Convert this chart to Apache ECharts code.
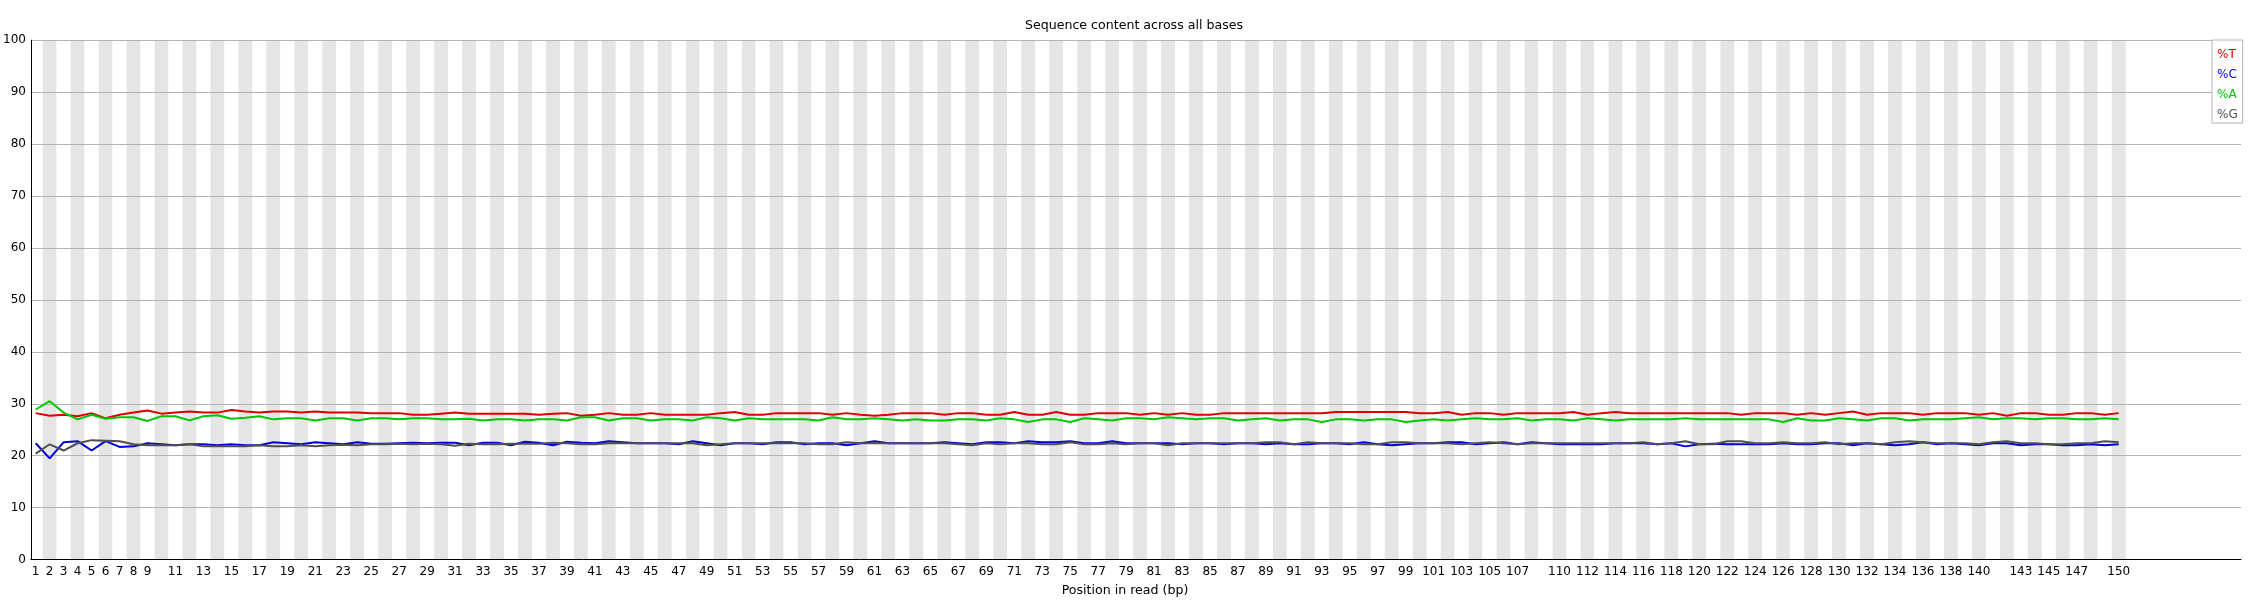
<!DOCTYPE html>
<html>
<head>
<meta charset="utf-8">
<script src="https://cdn.jsdelivr.net/npm/echarts/dist/echarts.min.js"></script>
<style>html,body{margin:0;padding:0;background:#fff}#c{width:2250px;height:600px}</style>
</head>
<body>
<div id="c"></div>
<script>
const positions = Array.from({length: 150}, (_, i) => String(i + 1));
const shownLabels = [1,2,3,4,5,6,7,8,9,11,13,15,17,19,21,23,25,27,29,31,33,35,37,39,41,43,45,47,49,51,53,55,57,59,61,63,65,67,69,71,73,75,77,79,81,83,85,87,89,91,93,95,97,99,101,103,105,107,110,112,114,116,118,120,122,124,126,128,130,132,134,136,138,140,143,145,147,150];
const yTicks = [0,10,20,30,40,50,60,70,80,90,100];

const pctT = [
28.2,27.7,27.9,27.6,28.2,27.2,27.9,28.3,28.7,28.1,
28.3,28.5,28.3,28.3,28.8,28.5,28.3,28.5,28.5,28.3,
28.5,28.3,28.3,28.3,28.2,28.2,28.2,27.9,27.9,28.1,
28.3,28.1,28.1,28.1,28.1,28.1,27.9,28.1,28.2,27.7,
27.9,28.2,27.9,27.9,28.2,27.9,27.9,27.9,27.9,28.2,
28.4,27.9,27.9,28.2,28.2,28.2,28.2,27.9,28.2,27.9,
27.7,27.9,28.2,28.2,28.2,27.9,28.2,28.2,27.9,27.9,
28.4,27.9,27.9,28.4,27.9,27.9,28.2,28.2,28.2,27.9,
28.2,27.9,28.2,27.9,27.9,28.2,28.2,28.2,28.2,28.2,
28.2,28.2,28.2,28.4,28.4,28.4,28.4,28.4,28.4,28.2,
28.2,28.4,27.9,28.2,28.2,27.9,28.2,28.2,28.2,28.2,
28.4,27.9,28.2,28.4,28.2,28.2,28.2,28.2,28.2,28.2,
28.2,28.2,27.9,28.2,28.2,28.2,27.9,28.2,27.9,28.2,
28.5,27.9,28.2,28.2,28.2,27.9,28.2,28.2,28.2,27.9,
28.2,27.7,28.2,28.2,27.9,27.9,28.2,28.2,27.9,28.2];

const pctC = [
22.4,19.5,22.6,22.8,21.0,22.8,21.7,21.8,22.4,22.2,
22.0,22.2,22.2,22.0,22.2,22.0,22.0,22.6,22.4,22.2,
22.6,22.4,22.2,22.6,22.3,22.3,22.4,22.5,22.4,22.5,
22.5,22.0,22.5,22.5,22.0,22.7,22.5,22.0,22.7,22.5,
22.4,22.8,22.6,22.4,22.4,22.4,22.2,22.8,22.4,22.0,
22.4,22.4,22.2,22.6,22.6,22.2,22.4,22.4,22.0,22.4,
22.8,22.4,22.4,22.4,22.4,22.6,22.4,22.2,22.6,22.6,
22.4,22.8,22.6,22.6,22.8,22.4,22.4,22.8,22.4,22.4,
22.4,22.4,22.2,22.4,22.4,22.2,22.4,22.4,22.2,22.4,
22.2,22.2,22.4,22.4,22.2,22.6,22.2,22.0,22.2,22.4,
22.4,22.6,22.6,22.2,22.4,22.6,22.2,22.6,22.4,22.2,
22.2,22.2,22.2,22.4,22.4,22.4,22.2,22.4,21.8,22.2,
22.3,22.2,22.2,22.2,22.2,22.4,22.2,22.2,22.4,22.4,
22.0,22.4,22.2,22.0,22.2,22.6,22.2,22.4,22.2,22.0,
22.4,22.4,22.0,22.2,22.2,22.0,22.0,22.2,22.0,22.2];

const pctA = [
28.9,30.5,28.3,27.0,27.9,27.1,27.4,27.4,26.7,27.6,
27.6,26.8,27.6,27.8,27.1,27.3,27.6,27.0,27.2,27.2,
26.8,27.2,27.2,26.8,27.2,27.2,27.0,27.2,27.2,27.0,
27.0,27.1,26.8,27.0,27.0,26.8,27.0,27.0,26.8,27.4,
27.4,26.8,27.2,27.2,26.8,27.0,27.0,26.8,27.4,27.2,
26.8,27.2,27.0,27.0,27.0,27.0,26.8,27.4,27.0,27.0,
27.2,27.0,26.8,27.0,26.8,26.8,27.0,27.0,26.8,27.2,
27.0,26.5,27.0,27.0,26.5,27.2,27.0,26.8,27.2,27.2,
27.0,27.4,27.2,27.0,27.2,27.2,26.8,27.0,27.2,26.8,
27.0,27.0,26.5,27.0,27.0,26.8,27.0,27.0,26.5,26.8,
27.0,26.8,27.0,27.2,27.0,27.0,27.2,26.8,27.0,27.0,
26.8,27.2,27.0,26.8,27.0,27.0,27.0,27.0,27.2,27.0,
27.0,27.0,27.0,27.0,27.0,26.5,27.2,26.8,26.8,27.2,
27.0,26.8,27.2,27.2,26.8,27.0,27.0,27.0,27.2,27.4,
27.0,27.2,27.2,27.0,27.2,27.2,27.0,27.0,27.2,27.0];

const pctG = [
20.4,22.2,21.0,22.4,23.0,22.9,22.8,22.2,22.0,22.0,
22.0,22.2,21.8,21.8,21.8,21.8,22.0,21.8,21.8,22.0,
21.8,22.0,22.1,22.0,22.2,22.2,22.3,22.2,22.3,22.2,
21.9,22.3,22.2,22.2,22.3,22.3,22.3,22.5,22.4,22.2,
22.2,22.4,22.4,22.4,22.4,22.4,22.4,22.4,22.0,22.2,
22.4,22.4,22.4,22.4,22.4,22.4,22.2,22.2,22.6,22.4,
22.4,22.4,22.4,22.4,22.4,22.4,22.2,22.0,22.4,22.2,
22.4,22.4,22.2,22.2,22.6,22.2,22.2,22.4,22.2,22.4,
22.4,22.0,22.4,22.4,22.4,22.4,22.4,22.4,22.6,22.6,
22.2,22.6,22.4,22.4,22.4,22.2,22.2,22.6,22.6,22.4,
22.4,22.4,22.2,22.4,22.6,22.4,22.2,22.4,22.4,22.4,
22.4,22.4,22.4,22.4,22.4,22.6,22.2,22.4,22.8,22.2,
22.2,22.8,22.8,22.4,22.4,22.6,22.4,22.4,22.6,22.2,
22.4,22.4,22.2,22.6,22.8,22.6,22.4,22.4,22.4,22.2,
22.6,22.8,22.4,22.4,22.2,22.2,22.4,22.4,22.8,22.6];

const seriesNames = ['%T', '%C', '%A', '%G'];
const seriesColors = ['#dc0000', '#0000dc', '#00c800', '#505050'];
const seriesValues = [pctT, pctC, pctA, pctG];

const FONT = 'DejaVu Sans';
const shownSet = new Set(shownLabels.map(String));

const chart = echarts.init(document.getElementById('c'), null, {renderer: 'canvas'});
chart.setOption({
  animation: false,
  backgroundColor: '#ffffff',
  textStyle: {fontFamily: FONT},
  grid: [
    {left: 28.7, top: 40.2, width: 2097, height: 519.4, containLabel: false},
    {left: 28.7, top: 40.2, width: 2212.3, height: 519.4, containLabel: false}
  ],
  xAxis: [
    {
      type: 'category', gridIndex: 0, data: positions, boundaryGap: true, z: 0,
      axisLine: {show: false}, axisTick: {show: false},
      axisLabel: {
        interval: 0, margin: 6, color: '#000', fontSize: 12, fontFamily: FONT,
        formatter: v => shownSet.has(v) ? v : ''
      },
      splitLine: {show: false},
      splitArea: {show: true, interval: 0, areaStyle: {color: ['#ffffff', '#e5e5e5']}}
    },
    {
      type: 'value', gridIndex: 1, min: 0, max: 1, z: 1,
      axisLine: {show: true, lineStyle: {color: '#000', width: 1}},
      axisTick: {show: false}, axisLabel: {show: false}, splitLine: {show: false}
    }
  ],
  yAxis: [
    {type: 'value', gridIndex: 0, min: 0, max: 100, show: false},
    {
      type: 'value', gridIndex: 1, min: yTicks[0], max: yTicks[yTicks.length - 1], interval: 10, z: 1,
      axisLine: {show: true, lineStyle: {color: '#000', width: 1}},
      axisTick: {show: false},
      axisLabel: {color: '#000', fontSize: 12, fontFamily: FONT, margin: 5},
      splitLine: {show: true, lineStyle: {color: '#b4b4b4', width: 1}}
    }
  ],
  legend: {
    orient: 'vertical', left: 2212, top: 40,
    itemWidth: 0, itemHeight: 14, itemGap: 6,
    padding: [8, 5, 1, 0],
    backgroundColor: '#ffffff', borderColor: '#b4b4b4', borderWidth: 1,
    icon: 'rect',
    data: seriesNames.map((n, i) => ({name: n, textStyle: {color: seriesColors[i]}})),
    textStyle: {fontSize: 12, fontFamily: FONT},
    selectedMode: false
  },
  graphic: [
    {type: 'text', x: 1134, y: 25.6, style: {text: 'Sequence content across all bases', fill: '#000', font: '12.6px "DejaVu Sans"', textAlign: 'center', textVerticalAlign: 'middle', verticalAlign: 'middle'}},
    {type: 'text', x: 1125, y: 590.5, style: {text: 'Position in read (bp)', fill: '#000', font: '12.6px "DejaVu Sans"', textAlign: 'center', textVerticalAlign: 'middle', verticalAlign: 'middle'}}
  ],
  series: seriesNames.map((n, i) => ({
    name: n, type: 'line', xAxisIndex: 0, yAxisIndex: 0,
    data: seriesValues[i], showSymbol: false, symbol: 'none',
    lineStyle: {color: seriesColors[i], width: 2},
    itemStyle: {color: seriesColors[i]},
    z: 3
  }))
});
</script>
</body>
</html>
